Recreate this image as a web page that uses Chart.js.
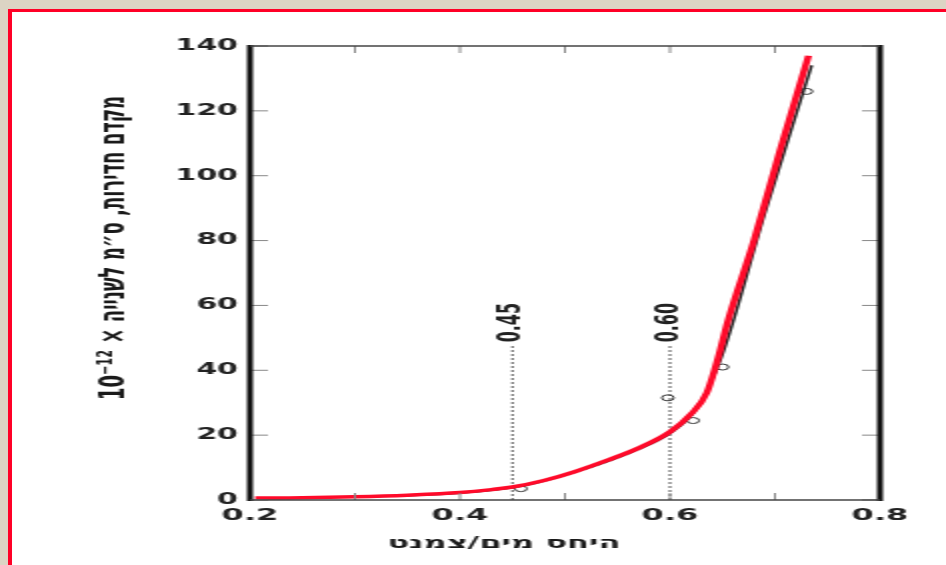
<!DOCTYPE html>
<html>
<head>
<meta charset="utf-8">
<script src="https://cdn.jsdelivr.net/npm/chart.js@4/dist/chart.umd.min.js"></script>
<style>
html, body { margin: 0; padding: 0; width: 946px; height: 565px; overflow: hidden; background: #dcd4c4; }
#sheet { position: absolute; left: 8px; top: 9px; width: 960px; height: 580px; background: #fff;
         border-left: 4px solid #ff0026; border-top: 3px solid #ff0026; }
/* the scanned figure is stretched sideways, so draw at half width and stretch */
#chart { position: absolute; left: 0; top: 0; width: 473px; height: 565px; transform: scaleX(2); transform-origin: 0 0; }
</style>
</head>
<body>
<div id="sheet"></div>
<canvas id="chart" width="473" height="565"></canvas>
<script>
// fitted curve (red)
const curveX = [0.205, 0.25, 0.30, 0.35, 0.40, 0.43, 0.45, 0.48, 0.51, 0.54, 0.57, 0.60, 0.62, 0.635, 0.646, 0.655, 0.68, 0.705, 0.732];
const curveY = [0.6, 0.7, 1.0, 1.5, 2.3, 3.2, 4.0, 6.0, 8.8, 12.2, 16.0, 21.0, 26.5, 33.0, 44.0, 55.0, 80.0, 108.0, 137.0];

// original trace and measured points (black)
const traceX = [0.21, 0.30, 0.40, 0.46, 0.52, 0.57, 0.60, 0.625, 0.649, 0.69, 0.735];
const traceY = [0.4, 0.9, 2.1, 4.3, 9.6, 15.6, 20.5, 28.0, 44.0, 88.0, 134.0];
const pointX = [0.458, 0.598, 0.622, 0.650, 0.730];
const pointY = [3.5, 31.5, 24.5, 41.0, 126.0];

// marked ratios
const markX = [0.45, 0.60];
const markTop = [48, 48];
const markLabels = ['0.45', '0.60'];

// axes
const xTicks = [0.2, 0.3, 0.4, 0.5, 0.6, 0.7, 0.8];
const xTickLabels = ['0.2', '', '0.4', '', '0.6', '', '0.8'];
const yTicks = [0, 20, 40, 60, 80, 100, 120, 140];
const yTickLabels = ['0', '20', '40', '60', '80', '100', '120', '140'];
const xTitle = 'היחס מים/צמנט';
const yTitle = 'מקדם חדירות, ס״מ לשנייה × 10⁻¹²';

const toPts = (xs, ys) => xs.map((x, i) => ({ x: x, y: ys[i] }));

const markSets = markX.map((v, i) => ({
    data: [{ x: v, y: 0 }, { x: v, y: markTop[i] }],
    showLine: true,
    borderColor: '#555',
    borderWidth: 1,
    borderDash: [2, 2],
    pointRadius: 0,
}));

const framePlugin = {
    id: 'frame',
    afterDraw(chart) {
        const ctx = chart.ctx;
        const a = chart.chartArea;
        const x = chart.scales.x;
        const y = chart.scales.y;
        const line = (x1, y1, x2, y2) => { ctx.beginPath(); ctx.moveTo(x1, y1); ctx.lineTo(x2, y2); ctx.stroke(); };
        ctx.save();

        // inward ticks
        ctx.strokeStyle = '#888';
        ctx.lineWidth = 1;
        xTicks.forEach(v => {
            const px = x.getPixelForValue(v);
            line(px, a.bottom, px, a.bottom - 7);
            line(px, a.top, px, a.top + 7);
        });
        yTicks.forEach(v => {
            const py = y.getPixelForValue(v);
            line(a.left, py, a.left + 9, py);
            line(a.right, py, a.right - 9, py);
        });

        // box
        ctx.strokeStyle = '#111';
        ctx.lineWidth = 3;
        line(a.left, a.top - 1, a.left, a.bottom + 1);
        line(a.right, a.top - 1, a.right, a.bottom + 1);
        ctx.strokeStyle = '#444';
        ctx.lineWidth = 1.5;
        line(a.left, a.top, a.right, a.top);
        line(a.left, a.bottom, a.right, a.bottom);

        // labels on the marked ratios
        ctx.fillStyle = '#222';
        ctx.font = 'bold 16px "DejaVu Sans"';
        ctx.textAlign = 'left';
        ctx.textBaseline = 'middle';
        markX.forEach((v, i) => {
            ctx.save();
            ctx.translate(x.getPixelForValue(v), y.getPixelForValue(markTop[i]) - 2);
            ctx.rotate(-Math.PI / 2);
            ctx.fillText(markLabels[i], 0, 0);
            ctx.restore();
        });

        // axis titles
        ctx.fillStyle = '#1a1a1a';
        ctx.direction = 'rtl';
        ctx.textAlign = 'center';
        ctx.font = 'bold 16px "DejaVu Sans"';
        ctx.fillText(xTitle, 252, 544);
        ctx.save();
        ctx.translate(57, 248);
        ctx.rotate(-Math.PI / 2);
        ctx.font = 'bold 18px "DejaVu Sans"';
        ctx.fillText(yTitle, 0, 0);
        ctx.restore();

        ctx.restore();
    }
};

new Chart(document.getElementById('chart'), {
    type: 'scatter',
    data: {
        datasets: [
            {
                data: toPts(curveX, curveY),
                showLine: true,
                borderColor: '#ff0a2a',
                borderWidth: 3.5,
                pointRadius: 0,
                cubicInterpolationMode: 'monotone',
            },
            {
                data: toPts(traceX, traceY),
                showLine: true,
                borderColor: '#222',
                borderWidth: 1.5,
                pointRadius: 0,
                cubicInterpolationMode: 'monotone',
            },
            {
                data: toPts(pointX, pointY),
                showLine: false,
                pointRadius: 3,
                pointStyle: 'circle',
                borderColor: '#333',
                borderWidth: 1,
                backgroundColor: 'rgba(0,0,0,0)',
            },
            ...markSets,
        ],
    },
    options: {
        responsive: false,
        devicePixelRatio: 1,
        animation: false,
        layout: { padding: { left: 40, right: 33, top: 46, bottom: 0 } },
        plugins: { legend: { display: false }, tooltip: { enabled: false } },
        scales: {
            x: {
                type: 'linear',
                min: 0.2,
                max: 0.8,
                afterBuildTicks: s => { s.ticks = xTicks.map(v => ({ value: v })); },
                afterFit: s => { s.height = 65; },
                ticks: {
                    callback: (v, i) => xTickLabels[i],
                    autoSkip: false,
                    maxRotation: 0,
                    padding: 6,
                    color: '#222',
                    font: { family: 'DejaVu Sans', size: 16, weight: 'bold' },
                },
                grid: { display: false, drawTicks: false },
                border: { display: false },
            },
            y: {
                min: 0,
                max: 140,
                afterBuildTicks: s => { s.ticks = yTicks.map(v => ({ value: v })); },
                afterFit: s => { s.width = 85; },
                ticks: {
                    callback: (v, i) => yTickLabels[i],
                    autoSkip: false,
                    padding: 6,
                    color: '#222',
                    font: { family: 'DejaVu Sans', size: 15, weight: 'bold' },
                },
                grid: { display: false, drawTicks: false },
                border: { display: false },
            },
        },
    },
    plugins: [framePlugin],
});
</script>
</body>
</html>
